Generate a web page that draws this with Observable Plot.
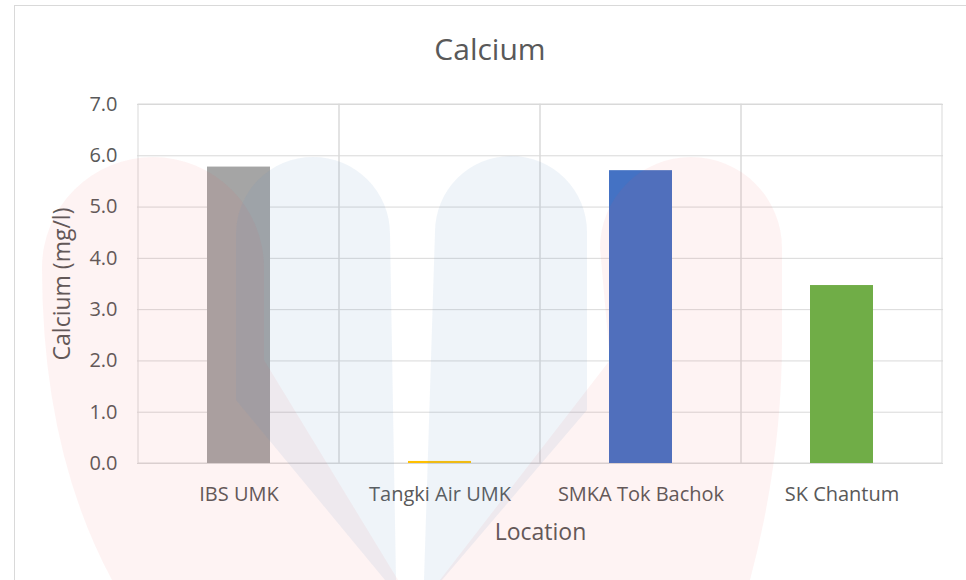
<!DOCTYPE html>
<html><head><meta charset="utf-8">
<script src="https://cdn.jsdelivr.net/npm/d3@7"></script>
<script src="https://cdn.jsdelivr.net/npm/@observablehq/plot@0.6"></script>
<style>
body{margin:0;background:#fff;}
#wrap{position:relative;width:966px;height:580px;overflow:hidden;font-family:"Open Sans",Lato,sans-serif;color:#595959;}
.frame{position:absolute;left:14px;top:5px;width:980px;height:600px;border:1px solid #d9d9d9;box-sizing:border-box;}
#title{position:absolute;left:14px;width:952px;top:29px;text-align:center;font-size:30px;line-height:40px;}
#chart{position:absolute;left:0;top:80px;}
#wm{position:absolute;left:0;top:0;pointer-events:none;}
</style></head><body>
<div id="wrap">
  <div class="frame"></div>
  <div id="title">Calcium</div>
  <div id="chart"></div>
  <svg id="wm" width="966" height="580" viewBox="0 0 966 580">
    <g fill="rgb(235,80,80)" fill-opacity="0.07">
      <path d="M42,268 A111,111 0 0 1 264,268 L264,360 L398,580 L112,580 Q42,450 42,268 Z"/>
      <path d="M600,248 A91,91 0 0 1 782,248 L782,340 Q782,460 750,580 L440,580 L610,360 Z"/>
    </g>
    <g fill="rgb(100,150,200)" fill-opacity="0.10">
      <path d="M236,234 A77,77 0 0 1 390,234 L396,580 L385,580 L236,400 Z"/>
      <path d="M435,232 A76,76 0 0 1 587,232 L587,410 L442,580 L424,580 Z"/>
    </g>
  </svg>
</div>
<script>
const locations = ["IBS UMK", "Tangki Air UMK", "SMKA Tok Bachok", "SK Chantum"];
const calcium = [5.78, 0.04, 5.71, 3.47];
const barColors = ["#a5a5a5", "#ffc000", "#4472c4", "#70ad47"];
const yTicks = [0, 1, 2, 3, 4, 5, 6, 7];
const xTitle = "Location";
const yTitle = "Calcium (mg/l)";

const data = locations.map((loc, i) => ({location: loc, value: calcium[i], color: barColors[i]}));
const grid = "#d9d9d9";
const font = "'Open Sans', Lato, sans-serif";

const plot = Plot.plot({
  width: 966, height: 500,
  marginTop: 24, marginLeft: 137, marginRight: 23, marginBottom: 117,
  style: {background: "transparent", fontFamily: font, fontSize: "20px", color: "#595959"},
  x: {domain: locations, padding: 0, label: null},
  y: {domain: [0, 7], label: null},
  color: {type: "identity"},
  marks: [
    Plot.gridY(yTicks, {stroke: grid, strokeOpacity: 1, strokeWidth: 1}),
    Plot.barY(locations, {x: d => d, y1: 0, y2: 7, fill: "none", stroke: grid, strokeWidth: 1}),
    Plot.barY(data, {x: "location", y: "value", fill: "color", insetLeft: 69, insetRight: 69}),
    Plot.axisX({tickSize: 0, tickPadding: 23, fontSize: 20, fill: "#595959", label: null}),
    Plot.axisY(yTicks, {tickSize: 0, tickPadding: 20, tickFormat: d3.format(".1f"), fontSize: 20, fill: "#595959", label: null}),
    Plot.text([xTitle], {frameAnchor: "bottom", dy: 76, fontSize: 23, fill: "#595959"}),
    Plot.text([yTitle], {frameAnchor: "left", dx: -75, rotate: -90, textAnchor: "middle", fontSize: 23, fill: "#595959"})
  ]
});
document.getElementById("chart").appendChild(plot);
</script>
</body></html>
